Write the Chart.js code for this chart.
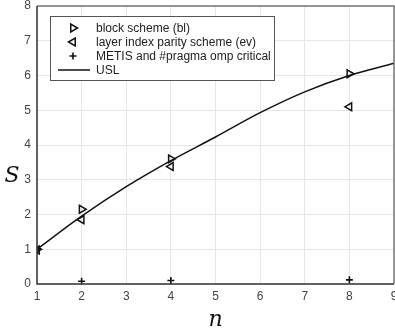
<!DOCTYPE html>
<html><head><meta charset="utf-8">
<script src="https://cdn.jsdelivr.net/npm/chart.js@4/dist/chart.umd.min.js"></script>
<style>html,body{margin:0;padding:0;background:#fff;overflow:hidden}#wrap{position:relative;width:395px;height:333px;overflow:hidden}</style>
</head><body><div id="wrap"><canvas id="c" width="400" height="333"></canvas></div>
<script>
const xTicks = [1,2,3,4,5,6,7,8,9];
const yTicks = [0,1,2,3,4,5,6,7,8];
const blockN = [1,2,4,8];
const blockS = [1.0,2.15,3.6,6.05];
const layerN = [1,2,4,8];
const layerS = [0.98,1.85,3.38,5.1];
const metisN = [1,2,4,8];
const metisS = [1.0,0.08,0.1,0.12];
const uslN = [1,2,3,4,5,6,7,8,9];
const uslS = [1.0,1.95,2.8,3.55,4.23,4.93,5.53,6.0,6.35];
const labels = ['block scheme (bl)','layer index parity scheme (ev)','METIS and #pragma omp critical','USL'];

const pts = (xs, ys) => xs.map((x,i)=>({x, y: ys[i]}));

const frame = {
  id:'frame',
  afterDraw(chart){
    const {ctx, chartArea:a} = chart;
    ctx.save();
    ctx.strokeStyle='#777'; ctx.lineWidth=1.5;
    ctx.beginPath(); ctx.moveTo(a.left,a.top); ctx.lineTo(a.right,a.top); ctx.lineTo(a.right,a.bottom); ctx.stroke();
    ctx.strokeStyle='#333';
    ctx.beginPath(); ctx.moveTo(a.left,a.top); ctx.lineTo(a.left,a.bottom); ctx.lineTo(a.right,a.bottom); ctx.stroke();
    ctx.fillStyle='#111'; ctx.font='italic 22px "DejaVu Serif", serif';
    ctx.textAlign='center'; ctx.textBaseline='middle';
    ctx.fillText('S', 12, 176);
    const bx=50, by=16, bw=224, bh=64;
    ctx.fillStyle='#fff'; ctx.fillRect(bx,by,bw,bh);
    ctx.strokeStyle='#555'; ctx.lineWidth=1; ctx.strokeRect(bx+0.5,by+0.5,bw,bh);
    const rows=[28,42,56,70];
    ctx.font='12px "Liberation Sans", Arial, sans-serif'; ctx.textAlign='left';
    chart.data.datasets.forEach((ds,i)=>{
      ctx.fillStyle='#222';
      ctx.fillText(ds.label, 96, rows[i]+0.5);
      ctx.strokeStyle='#111';
      ctx.fillStyle='rgba(0,0,0,0)';
      if(ds.showLine){
        ctx.lineWidth=1.5; ctx.beginPath(); ctx.moveTo(58,rows[i]); ctx.lineTo(90,rows[i]); ctx.stroke();
      } else {
        ctx.lineWidth=ds.borderWidth;
        Chart.helpers.drawPoint(ctx,{pointStyle:ds.pointStyle,rotation:ds.rotation||0,radius:ds.pointRadius,borderWidth:ds.borderWidth},73,rows[i]);
      }
    });
    ctx.restore();
  }
};

new Chart(document.getElementById('c'), {
  type:'scatter',
  data:{datasets:[
    {label:labels[0], data:pts(blockN,blockS), pointStyle:'triangle', rotation:90, pointRadius:4.5, borderColor:'#111', backgroundColor:'rgba(0,0,0,0)', borderWidth:1.5},
    {label:labels[1], data:pts(layerN,layerS), pointStyle:'triangle', rotation:-90, pointRadius:4.5, borderColor:'#111', backgroundColor:'rgba(0,0,0,0)', borderWidth:1.5},
    {label:labels[2], data:pts(metisN,metisS), pointStyle:'cross', pointRadius:3.5, borderColor:'#111', backgroundColor:'#111', borderWidth:1.6},
    {label:labels[3], data:pts(uslN,uslS), showLine:true, pointRadius:0, borderColor:'#111', borderWidth:1.5, cubicInterpolationMode:'monotone'}
  ]},
  options:{
    responsive:false, animation:false, devicePixelRatio:1,
    layout:{padding:{top:5,right:0,left:0,bottom:0}},
    plugins:{legend:{display:false}, tooltip:{enabled:false}},
    scales:{
      x:{type:'linear', min:1, max:9,
        afterBuildTicks(s){ s.ticks = xTicks.map(v=>({value:v})); },
        afterFit(s){ s.height=49; s.paddingLeft=0; s.paddingRight=0; },
        grid:{color:'#e6e6e6', drawTicks:false}, border:{display:false},
        ticks:{color:'#444', font:{size:12, family:'"Liberation Sans", Arial, sans-serif'}, padding:5},
        title:{display:true, text:'n', color:'#111', font:{size:22, style:'italic', family:'"DejaVu Serif", serif'}, padding:{top:2,bottom:0}}
      },
      y:{type:'linear', min:0, max:8,
        afterBuildTicks(s){ s.ticks = yTicks.map(v=>({value:v})); },
        afterFit(s){ s.width=37; s.paddingTop=0; s.paddingBottom=0; },
        grid:{color:'#e6e6e6', drawTicks:false}, border:{display:false},
        ticks:{color:'#444', font:{size:12, family:'"Liberation Sans", Arial, sans-serif'}, padding:6}
      }
    }
  },
  plugins:[frame]
});
</script></body></html>
